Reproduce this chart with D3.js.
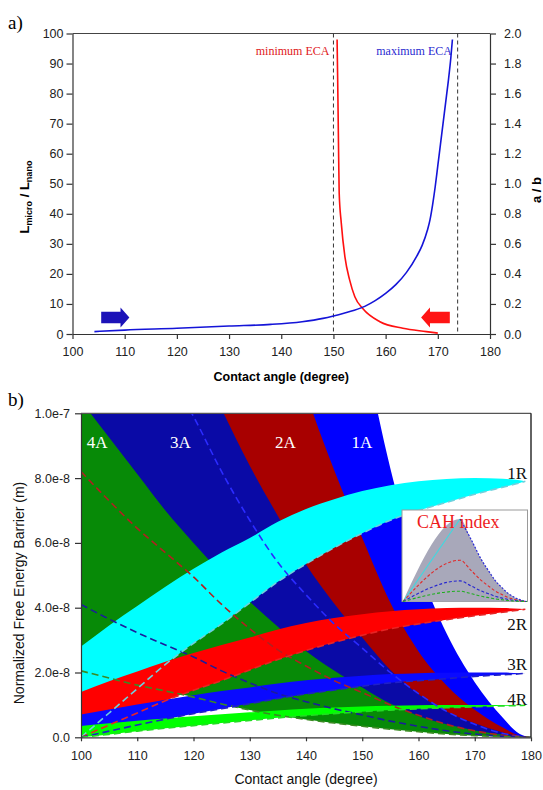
<!DOCTYPE html>
<meta charset="utf-8">
<script src="https://d3js.org/d3.v7.min.js"></script>
<style>
  body { margin: 0; background: #fff; }
</style>
<svg id="chart" width="543" height="790"></svg>
<script>
// ---------- panel a ----------
var angleTicks = [100, 110, 120, 130, 140, 150, 160, 170, 180];
var lengthTicks = [0, 10, 20, 30, 40, 50, 60, 70, 80, 90, 100];
var ratioTicks = [0, 0.2, 0.4, 0.6, 0.8, 1.0, 1.2, 1.4, 1.6, 1.8, 2.0];

// blue curve (a / b, right axis)
var blueAngle = [104.2, 110, 120, 130, 138, 144, 148, 150, 152, 154, 156, 158, 160, 162, 164, 166, 167, 168, 168.5, 169, 169.5, 170, 170.5, 171, 171.5, 172, 172.5, 172.8];
var blueRatio = [0.016, 0.026, 0.038, 0.053, 0.064, 0.082, 0.104, 0.12, 0.138, 0.158, 0.184, 0.222, 0.27, 0.33, 0.41, 0.52, 0.59, 0.69, 0.76, 0.86, 0.98, 1.12, 1.26, 1.40, 1.54, 1.68, 1.84, 1.96];

// red curve (Lmicro / Lnano, left axis)
var redAngle = [150.7, 150.8, 150.9, 151.0, 151.1, 151.5, 152.2, 153.1, 154.1, 155.7, 158.9, 163.3, 167.8, 170.0];
var redLength = [98, 86, 73, 59, 47, 37, 25.7, 18, 12.4, 8.3, 4.1, 1.9, 0.8, 0.3];

var ecaAngles = [150, 173.8];

// ---------- panel b (values in 1e-8 m) ----------
var barrierTicks = [0, 2, 4, 6, 8, 10];
var barrierTickLabels = ["0.0", "2.0e-8", "4.0e-8", "6.0e-8", "8.0e-8", "1.0e-7"];

var angleA = [100, 105, 110, 115, 120, 125, 130, 135, 140, 145, 150, 155, 160, 165, 170, 175, 178, 180];
var top1A = [83, 74, 65, 56, 48, 40.5, 33.5, 27.3, 21.3, 16.5, 12.3, 8.3, 5.3, 3.2, 1.7, 0.6, 0.1, 0];
var top2A = [41.5, 37, 32.5, 28, 24, 20.25, 16.75, 13.65, 10.65, 8.25, 6.15, 4.15, 2.65, 1.6, 0.85, 0.3, 0.05, 0];
var top3A = [20.75, 18.5, 16.25, 14, 12, 10.13, 8.38, 6.83, 5.33, 4.13, 3.08, 2.08, 1.33, 0.8, 0.43, 0.15, 0.03, 0];
var top4A = [10.38, 9.25, 8.13, 7, 6, 5.06, 4.19, 3.41, 2.66, 2.06, 1.54, 1.04, 0.66, 0.4, 0.21, 0.08, 0.01, 0];
var low1A = [16.4, 14.6, 12.9, 11.4, 9.9, 8.2, 6.7, 5.4, 4.4, 3.5, 2.75, 2.0, 1.35, 0.8, 0.4, 0.12, 0.03, 0];
var low2A = [8.2, 7.3, 6.45, 5.7, 4.95, 4.1, 3.35, 2.7, 2.2, 1.75, 1.38, 1.0, 0.68, 0.4, 0.2, 0.06, 0.02, 0];
var low3A = [4.1, 3.65, 3.23, 2.85, 2.48, 2.05, 1.68, 1.35, 1.1, 0.88, 0.69, 0.5, 0.34, 0.2, 0.1, 0.03, 0.01, 0];
var low4A = [2.05, 1.83, 1.61, 1.43, 1.24, 1.03, 0.84, 0.68, 0.55, 0.44, 0.34, 0.25, 0.17, 0.1, 0.05, 0.02, 0, 0];

var angleR = [100, 105, 110, 115, 120, 125, 130, 135, 140, 145, 150, 155, 160, 165, 170, 175, 178, 179];
var top1R = [2.8, 3.45, 4.05, 4.65, 5.2, 5.7, 6.15, 6.65, 7.05, 7.35, 7.6, 7.78, 7.9, 7.97, 8.0, 7.98, 7.93, 7.9];
var top2R = [1.4, 1.73, 2.03, 2.33, 2.6, 2.85, 3.08, 3.33, 3.53, 3.68, 3.8, 3.89, 3.95, 3.99, 4.0, 3.99, 3.97, 3.95];
var top3R = [0.7, 0.86, 1.01, 1.16, 1.3, 1.43, 1.54, 1.66, 1.76, 1.84, 1.9, 1.95, 1.98, 1.99, 2.0, 2.0, 1.98, 1.98];
var top4R = [0.35, 0.43, 0.51, 0.58, 0.65, 0.71, 0.77, 0.83, 0.88, 0.92, 0.95, 0.97, 0.99, 1.0, 1.0, 1.0, 0.99, 0.99];
var low1R = [0, 0.75, 1.5, 2.25, 2.9, 3.5, 4.15, 4.8, 5.35, 5.85, 6.3, 6.7, 7.0, 7.25, 7.5, 7.72, 7.85, 7.9];
var low2R = [0, 0.38, 0.75, 1.13, 1.45, 1.75, 2.08, 2.4, 2.68, 2.93, 3.15, 3.35, 3.5, 3.63, 3.75, 3.86, 3.93, 3.95];
var low3R = [0, 0.19, 0.38, 0.56, 0.73, 0.88, 1.04, 1.2, 1.34, 1.46, 1.58, 1.68, 1.75, 1.81, 1.88, 1.93, 1.96, 1.98];
var low4R = [0, 0.09, 0.19, 0.28, 0.36, 0.44, 0.52, 0.6, 0.67, 0.73, 0.79, 0.84, 0.88, 0.91, 0.94, 0.97, 0.98, 0.99];

// inset (CAH index), normalised
var insetX = [0, 0.46, 0.55, 0.633, 0.7, 0.739, 0.8, 0.846, 0.9, 0.965, 1];
var insetGray = [0, 1, 0.75, 0.505, 0.35, 0.263, 0.165, 0.10, 0.05, 0.012, 0];
var insetRed = [0, 0.5, 0.375, 0.253, 0.175, 0.132, 0.083, 0.05, 0.025, 0.006, 0];
var insetBlue = [0, 0.25, 0.188, 0.126, 0.088, 0.066, 0.041, 0.025, 0.013, 0.003, 0];
var insetGreen = [0, 0.125, 0.094, 0.063, 0.044, 0.033, 0.021, 0.013, 0.006, 0.002, 0];

var serif = "Liberation Serif, Times New Roman, serif";
var sans = "Liberation Sans, Arial, sans-serif";
var svg = d3.select("#chart").attr("font-family", sans);

function styleAxis(g, size) {
  g.attr("font-size", size).attr("font-family", sans);
  g.selectAll("path.domain").attr("stroke", "#333").attr("stroke-width", 1.2);
  g.selectAll(".tick line").attr("stroke", "#333").attr("stroke-width", 1.2);
  g.selectAll(".tick text").attr("fill", "#222");
}

// ================= panel a =================
var xA = d3.scaleLinear().domain([100, 180]).range([72.5, 490]);
var yL = d3.scaleLinear().domain([0, 100]).range([334, 33.5]);
var yR = d3.scaleLinear().domain([0, 2]).range([334, 33.5]);

var pa = svg.append("g");
pa.append("line").attr("x1", xA(100)).attr("x2", xA(180)).attr("y1", yL(100)).attr("y2", yL(100))
  .attr("stroke", "#444").attr("stroke-width", 1.2);

pa.append("g").attr("transform", "translate(0," + yL(0) + ")")
  .call(d3.axisBottom(xA).tickValues(angleTicks).tickSize(5).tickPadding(8).tickSizeOuter(0))
  .call(styleAxis, 12.5);
pa.append("g").attr("transform", "translate(" + xA(100) + ",0)")
  .call(d3.axisLeft(yL).tickValues(lengthTicks).tickSize(6).tickPadding(3).tickSizeOuter(0))
  .call(styleAxis, 12.5);
pa.append("g").attr("transform", "translate(" + xA(180) + ",0)")
  .call(d3.axisRight(yR).tickValues(ratioTicks).tickSize(6).tickPadding(8).tickSizeOuter(0).tickFormat(d3.format(".1f")))
  .call(styleAxis, 12.5);

pa.selectAll("line.eca").data(ecaAngles).enter().append("line")
  .attr("x1", d => xA(d)).attr("x2", d => xA(d))
  .attr("y1", yL(100)).attr("y2", yL(0))
  .attr("stroke", "#333").attr("stroke-width", 1).attr("stroke-dasharray", "4,3");

pa.append("path")
  .datum(d3.zip(redAngle, redLength))
  .attr("fill", "none").attr("stroke", "#ff1010").attr("stroke-width", 1.6)
  .attr("d", d3.line().x(d => xA(d[0])).y(d => yL(d[1])).curve(d3.curveMonotoneX));
pa.append("path")
  .datum(d3.zip(blueAngle, blueRatio))
  .attr("fill", "none").attr("stroke", "#1414d8").attr("stroke-width", 1.6)
  .attr("d", d3.line().x(d => xA(d[0])).y(d => yR(d[1])).curve(d3.curveMonotoneX));

pa.append("text").attr("x", xA(150) - 4).attr("y", 55).attr("text-anchor", "end")
  .attr("font-family", serif).attr("font-size", 12).attr("fill", "#e01818").text("minimum ECA");
pa.append("text").attr("x", xA(172.7)).attr("y", 55).attr("text-anchor", "end")
  .attr("font-family", serif).attr("font-size", 12).attr("fill", "#2a2ad0").text("maximum ECA");

// block arrows
function blockArrow(tipX, baseX, tailX, yc, color) {
  var bh = 5.8, hh = 10;
  var pts = [[tipX, yc], [baseX, yc - hh], [baseX, yc - bh], [tailX, yc - bh], [tailX, yc + bh], [baseX, yc + bh], [baseX, yc + hh]];
  pa.append("path").attr("d", d3.line()(pts) + "Z").attr("fill", color);
}
blockArrow(xA(110.9), xA(109.2), xA(105.5), yL(5.5), "#1c12b8");
blockArrow(xA(166.8), xA(168.5), xA(172.3), yL(5.5), "#ff1414");

pa.append("text").attr("x", 8).attr("y", 29).attr("font-family", serif).attr("font-size", 19).text("a)");
pa.append("text").attr("x", xA(140)).attr("y", 381).attr("text-anchor", "middle")
  .attr("font-weight", "bold").attr("font-size", 12.5).text("Contact angle (degree)");

var yl = pa.append("text").attr("transform", "translate(29,197) rotate(-90)")
  .attr("text-anchor", "middle").attr("font-weight", "bold").attr("font-size", 13);
yl.append("tspan").text("L");
yl.append("tspan").attr("font-size", 9).attr("dy", 3).text("micro");
yl.append("tspan").attr("dy", -3).text(" / L");
yl.append("tspan").attr("font-size", 9).attr("dy", 3).text("nano");

pa.append("text").attr("transform", "translate(541,190) rotate(-90)")
  .attr("text-anchor", "middle").attr("font-weight", "bold").attr("font-size", 13).text("a / b");

// ================= panel b =================
var xB = d3.scaleLinear().domain([100, 180]).range([81, 531]);
var yB = d3.scaleLinear().domain([0, 10]).range([737.3, 413.3]);

svg.append("clipPath").attr("id", "plotB").append("rect")
  .attr("x", xB(100)).attr("y", yB(10)).attr("width", xB(180) - xB(100)).attr("height", yB(0) - yB(10));

var pb = svg.append("g").attr("clip-path", "url(#plotB)");

var band = d3.area().x(d => xB(d[0])).y0(d => yB(d[1])).y1(d => yB(d[2])).curve(d3.curveMonotoneX);

var bandsA = [
  [low1A, top1A, "#0000ff"],
  [low2A, top2A, "#a80000"],
  [low3A, top3A, "#0a0aa6"],
  [low4A, top4A, "#078a07"]
];
var bandsR = [
  [low1R, top1R, "#00ffff"],
  [low2R, top2R, "#ff0000"],
  [low3R, top3R, "#0a0aff"],
  [low4R, top4R, "#00ff00"]
];
bandsA.forEach(function(b) {
  pb.append("path").datum(d3.zip(angleA, b[0], b[1])).attr("fill", b[2]).attr("d", band);
});
bandsR.forEach(function(b) {
  pb.append("path").datum(d3.zip(angleR, b[0], b[1])).attr("fill", b[2]).attr("d", band);
});

var dashLine = d3.line().x(d => xB(d[0])).y(d => yB(d[1])).curve(d3.curveMonotoneX);
var dashedA = [[low1A, "#2b2bff"], [low2A, "#b02020"], [low3A, "#1c1c9c"], [low4A, "#3a8a22"]];
var dashedR = [[low1R, "#6fd0dc"], [low2R, "#e82424"], [low3R, "#2020c8"], [low4R, "#22dd22"]];
dashedA.forEach(function(d) {
  pb.append("path").datum(d3.zip(angleA, d[0])).attr("fill", "none").attr("stroke", d[1])
    .attr("stroke-width", 1.6).attr("stroke-dasharray", "7,4").attr("d", dashLine);
});
dashedR.forEach(function(d) {
  pb.append("path").datum(d3.zip(angleR, d[0])).attr("fill", "none").attr("stroke", d[1])
    .attr("stroke-width", 1.6).attr("stroke-dasharray", "7,4").attr("d", dashLine);
});

// band labels
var labA = [["4A", 101], ["3A", 115.8], ["2A", 134.5], ["1A", 148.1]];
svg.selectAll("text.labA").data(labA).enter().append("text")
  .attr("x", d => xB(d[1])).attr("y", yB(8.93)).attr("fill", "#fff")
  .attr("font-family", serif).attr("font-size", 17).text(d => d[0]);
var labR = [["1R", 7.97], ["2R", 3.31], ["3R", 2.08], ["4R", 0.99]];
svg.selectAll("text.labR").data(labR).enter().append("text")
  .attr("x", xB(179.3)).attr("y", d => yB(d[1])).attr("text-anchor", "end").attr("fill", "#111")
  .attr("font-family", serif).attr("font-size", 17).text(d => d[0]);

// inset
var ix = d3.scaleLinear().domain([0, 1]).range([403, 527]);
var iy = d3.scaleLinear().domain([0, 1]).range([601.5, 519]);
svg.append("rect").attr("x", 402).attr("y", 510).attr("width", 125.5).attr("height", 91.5)
  .attr("fill", "#fff").attr("stroke", "#9a9a9a").attr("stroke-width", 1);
svg.append("path").datum(d3.zip(insetX, insetGray)).attr("fill", "#a8a8ba")
  .attr("d", d3.area().x(d => ix(d[0])).y0(iy(0)).y1(d => iy(d[1])).curve(d3.curveMonotoneX));
var iline = d3.line().x(d => ix(d[0])).y(d => iy(d[1])).curve(d3.curveMonotoneX);
svg.append("path").datum(d3.zip(insetX.slice(0, 2), insetGray.slice(0, 2))).attr("fill", "none")
  .attr("stroke", "#40d8e0").attr("stroke-width", 1.2).attr("d", iline);
svg.append("path").datum(d3.zip(insetX.slice(1), insetGray.slice(1))).attr("fill", "none")
  .attr("stroke", "#2a2ad8").attr("stroke-width", 1.2).attr("stroke-dasharray", "2,1.5").attr("d", iline);
[[insetRed, "#e02a2a"], [insetBlue, "#2626d0"], [insetGreen, "#1fae1f"]].forEach(function(s) {
  svg.append("path").datum(d3.zip(insetX, s[0])).attr("fill", "none").attr("stroke", s[1])
    .attr("stroke-width", 1.1).attr("stroke-dasharray", "3,2").attr("d", iline);
});
svg.append("text").attr("x", 417).attr("y", 528).attr("font-family", serif).attr("font-size", 18)
  .attr("fill", "#ee1c1c").text("CAH index");

// frame and axes
svg.append("line").attr("x1", xB(100)).attr("x2", xB(180)).attr("y1", yB(10)).attr("y2", yB(10))
  .attr("stroke", "#555").attr("stroke-width", 1.2);
svg.append("line").attr("x1", xB(180)).attr("x2", xB(180)).attr("y1", yB(10)).attr("y2", yB(0))
  .attr("stroke", "#222").attr("stroke-width", 1.4);
svg.append("g").attr("transform", "translate(0," + yB(0) + ")")
  .call(d3.axisBottom(xB).tickValues(angleTicks).tickSize(4).tickPadding(10).tickSizeOuter(0))
  .call(styleAxis, 12.5);
svg.append("g").attr("transform", "translate(" + xB(100) + ",0)")
  .call(d3.axisLeft(yB).tickValues(barrierTicks).tickSize(6).tickPadding(5).tickSizeOuter(0)
    .tickFormat((d, i) => barrierTickLabels[i]))
  .call(styleAxis, 12.5);

svg.append("text").attr("x", 8).attr("y", 406).attr("font-family", serif).attr("font-size", 19).text("b)");
svg.append("text").attr("x", xB(140)).attr("y", 784).attr("text-anchor", "middle")
  .attr("font-size", 14).attr("fill", "#111").text("Contact angle (degree)");
svg.append("text").attr("transform", "translate(24,593) rotate(-90)")
  .attr("text-anchor", "middle").attr("font-size", 14).attr("fill", "#111")
  .text("Normalized Free Energy Barrier (m)");
</script>
